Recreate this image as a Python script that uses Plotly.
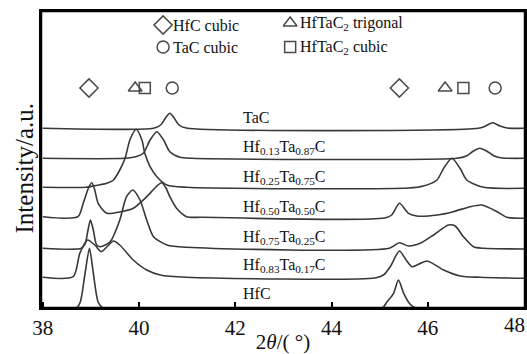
import plotly.graph_objects as go

# XRD patterns of the Hf-Ta-C series (offset for clarity), intensity in a.u.
two_theta_tac = [38.0, 40.30, 40.45, 40.55, 40.64, 40.73, 40.83, 40.98, 47.05, 47.2, 47.35, 47.5, 47.65, 48.0]
int_tac = [179.7, 179.8, 183.0, 190.0, 194.7, 190.0, 183.0, 180.0, 179.7, 182.0, 185.3, 182.0, 180.0, 179.7]

two_theta_hf13 = [38.0, 39.7, 39.95, 40.09, 40.23, 40.37, 40.51, 40.64, 40.85, 41.1,
                  46.6, 46.8, 46.95, 47.08, 47.22, 47.38, 47.55, 48.0]
int_hf13 = [149.7, 149.7, 151.5, 154.7, 168.0, 176.3, 168.0, 156.3, 150.7, 149.7,
            149.7, 152.0, 157.0, 159.7, 157.0, 152.0, 150.0, 149.7]

two_theta_hf25 = [38.0, 38.9, 39.05, 39.33, 39.47, 39.6, 39.71, 39.81, 39.94, 40.06, 40.12, 40.23,
                  40.37, 40.58, 40.99, 45.6, 45.91, 46.19, 46.33, 46.5, 46.67, 46.81, 47.16, 48.0]
int_hf25 = [120.7, 120.7, 122.0, 124.7, 128.0, 138.0, 149.7, 168.0, 178.7, 168.0, 154.7, 141.3,
            131.3, 123.0, 120.7, 120.0, 122.0, 128.0, 139.7, 149.7, 139.7, 128.0, 120.7, 119.7]

two_theta_hf50 = [38.0, 38.73, 38.84, 38.95, 39.02, 39.08, 39.15, 39.33, 39.6, 39.88, 40.16, 40.35,
                  40.47, 40.56, 40.64, 40.78, 40.99, 41.3, 45.1, 45.25, 45.41, 45.6, 45.77,
                  46.2, 46.53, 46.88, 47.12, 47.44, 47.64, 48.0]
int_hf50 = [91.3, 91.3, 104.7, 120.0, 125.3, 118.0, 104.7, 94.7, 96.0, 99.7, 111.3, 121.0,
            125.3, 120.0, 111.3, 99.7, 91.3, 90.7, 90.0, 93.0, 104.7, 94.7, 92.0,
            93.0, 96.3, 101.3, 103.0, 96.3, 90.7, 89.7]

two_theta_hf75 = [38.0, 38.8, 38.88, 38.94, 38.99, 39.05, 39.12, 39.2, 39.4, 39.6, 39.74, 39.87,
                  40.02, 40.16, 40.3, 40.58, 40.99, 45.2, 45.41, 45.6, 45.84, 46.12, 46.43,
                  46.57, 46.74, 46.95, 47.16, 48.0]
int_hf75 = [59.7, 59.7, 64.0, 78.0, 88.0, 78.0, 63.0, 61.3, 66.3, 88.0, 111.3, 118.0,
            108.0, 88.0, 71.3, 63.0, 60.7, 59.7, 65.3, 62.0, 64.7, 73.0, 83.0,
            82.0, 71.3, 61.3, 59.7, 59.0]

two_theta_hf83 = [38.0, 38.63, 38.77, 38.93, 39.08, 39.22, 39.35, 39.47, 39.6, 39.88, 40.16, 40.44,
                  40.99, 44.9, 45.08, 45.22, 45.41, 45.55, 45.67, 45.82, 45.99, 46.33, 46.67,
                  47.09, 48.0]
int_hf83 = [30.7, 31.3, 54.7, 68.0, 63.0, 56.3, 62.0, 67.0, 63.0, 48.0, 38.0, 33.0,
            30.7, 30.0, 33.0, 41.3, 57.0, 48.0, 41.3, 44.0, 47.0, 38.0, 32.0,
            30.7, 29.7]

two_theta_hfc = [38.0, 38.7, 38.78, 38.88, 38.97, 39.05, 39.15, 39.25, 45.05, 45.15, 45.29,
                 45.39, 45.5, 45.63, 45.75, 48.0]
int_hfc = [0.0, 0.0, 6.0, 35.0, 59.7, 35.0, 6.0, 0.0, 0.0, 6.0, 14.7,
           28.0, 14.7, 4.0, 0.0, 0.0]

series_names = ["TaC", "Hf<sub>0.13</sub>Ta<sub>0.87</sub>C", "Hf<sub>0.25</sub>Ta<sub>0.75</sub>C",
                "Hf<sub>0.50</sub>Ta<sub>0.50</sub>C", "Hf<sub>0.75</sub>Ta<sub>0.25</sub>C",
                "Hf<sub>0.83</sub>Ta<sub>0.17</sub>C", "HfC"]
label_y = [191, 161, 131, 101, 71, 43, 15]
label_x = 42.12

# x tick labels
tick_vals = [38, 40, 42, 44, 46]
last_tick = 48

# Reference phase peak positions (2θ)
hfc_cubic_pos = [38.96, 45.41]
hftac2_trig_pos = [39.92, 46.36]
hftac2_cubic_pos = [40.12, 46.74]
tac_cubic_pos = [40.69, 47.40]
marker_row_y = 220

legend_entries = ["HfC cubic", "TaC cubic", "HfTaC<sub>2</sub> trigonal", "HfTaC<sub>2</sub> cubic"]

X_RANGE = [37.963, 48.02]
Y_RANGE = [0, 297]

FONT = "Liberation Serif, Times New Roman, serif"
LINE = "#383838"
MARK = "#4a4a4a"
AXIS = "#000000"
TEXT = "#111111"

fig = go.Figure()

patterns = [(two_theta_tac, int_tac), (two_theta_hf13, int_hf13), (two_theta_hf25, int_hf25),
            (two_theta_hf50, int_hf50), (two_theta_hf75, int_hf75), (two_theta_hf83, int_hf83),
            (two_theta_hfc, int_hfc)]
for (xs, ys), name in zip(patterns, series_names):
    fig.add_trace(go.Scatter(x=xs, y=ys, mode="lines", name=name,
                             line=dict(color=LINE, width=1.6, shape="spline", smoothing=0.7),
                             showlegend=False, hoverinfo="skip"))

def add_markers(xs, ys, symbol, size):
    fig.add_trace(go.Scatter(x=xs, y=ys, mode="markers", showlegend=False, hoverinfo="skip",
                             marker=dict(symbol=symbol, size=size, color=MARK,
                                         line=dict(color=MARK, width=1.5))))

add_markers(hfc_cubic_pos, [marker_row_y] * 2, "diamond-open", 14)
add_markers(hftac2_trig_pos, [marker_row_y] * 2, "triangle-up-open", 12)
add_markers(hftac2_cubic_pos, [marker_row_y] * 2, "square-open", 11)
add_markers(tac_cubic_pos, [marker_row_y] * 2, "circle-open", 12)

# Key entries in the upper area
key_sym_x = [40.50, 40.50, 43.14, 43.14]
key_sym_y = [283, 261, 285, 261]
key_symbols = ["diamond-open", "circle-open", "triangle-up-open", "square-open"]
key_sizes = [14, 12, 12, 11]
for sx, sy, sym, sz in zip(key_sym_x, key_sym_y, key_symbols, key_sizes):
    add_markers([sx], [sy], sym, sz)

# Box around the plotting area, traced along the axis ranges
x0, x1 = X_RANGE
y0, y1 = Y_RANGE
fig.add_trace(go.Scatter(x=[x0, x1, x1, x0, x0], y=[y0, y0, y1, y1, y0], mode="lines",
                         line=dict(color=AXIS, width=2.5), cliponaxis=False,
                         showlegend=False, hoverinfo="skip"))

annotations = []
for sx, sy, txt in zip(key_sym_x, key_sym_y, legend_entries):
    annotations.append(dict(x=sx + 0.17, y=sy, xref="x", yref="y", text=txt, showarrow=False,
                            xanchor="left", yanchor="middle",
                            font=dict(family=FONT, size=16, color=TEXT)))
for name, ly in zip(series_names, label_y):
    annotations.append(dict(x=label_x, y=ly, xref="x", yref="y", text=name, showarrow=False,
                            xanchor="left", yanchor="middle",
                            font=dict(family=FONT, size=16, color=TEXT)))
# last tick label kept inside the page edge
annotations.append(dict(x=last_tick, y=0, xref="x", yref="paper", text=str(last_tick),
                        showarrow=False, xanchor="right", yanchor="top", xshift=3, yshift=-3,
                        font=dict(family=FONT, size=21, color=TEXT)))
# y-axis title
annotations.append(dict(x=-0.035, y=0.47, xref="paper", yref="paper", text="Intensity/a.u.",
                        textangle=-90, showarrow=False, xanchor="center", yanchor="middle",
                        font=dict(family=FONT, size=25, color=TEXT)))

fig.update_layout(
    template="none",
    width=527, height=354,
    margin=dict(l=41, r=2, t=11, b=46),
    paper_bgcolor="white", plot_bgcolor="white",
    font=dict(family=FONT, color=TEXT),
    annotations=annotations,
    xaxis=dict(range=X_RANGE, tickvals=tick_vals + [last_tick],
               ticktext=[str(v) for v in tick_vals] + [""],
               ticks="inside", ticklen=6, tickwidth=2, tickcolor=AXIS,
               automargin=False,
               showline=True, linecolor=AXIS, linewidth=2, mirror=True,
               showgrid=False, zeroline=False,
               tickfont=dict(family=FONT, size=21, color=TEXT),
               title=dict(text="2<i>θ</i>/( °)", font=dict(family=FONT, size=21, color=TEXT),
                          standoff=0)),
    yaxis=dict(range=Y_RANGE, showticklabels=False, ticks="", automargin=False,
               showline=True, linecolor=AXIS, linewidth=2, mirror=True,
               showgrid=False, zeroline=False),
)

fig.write_html("out.html")
